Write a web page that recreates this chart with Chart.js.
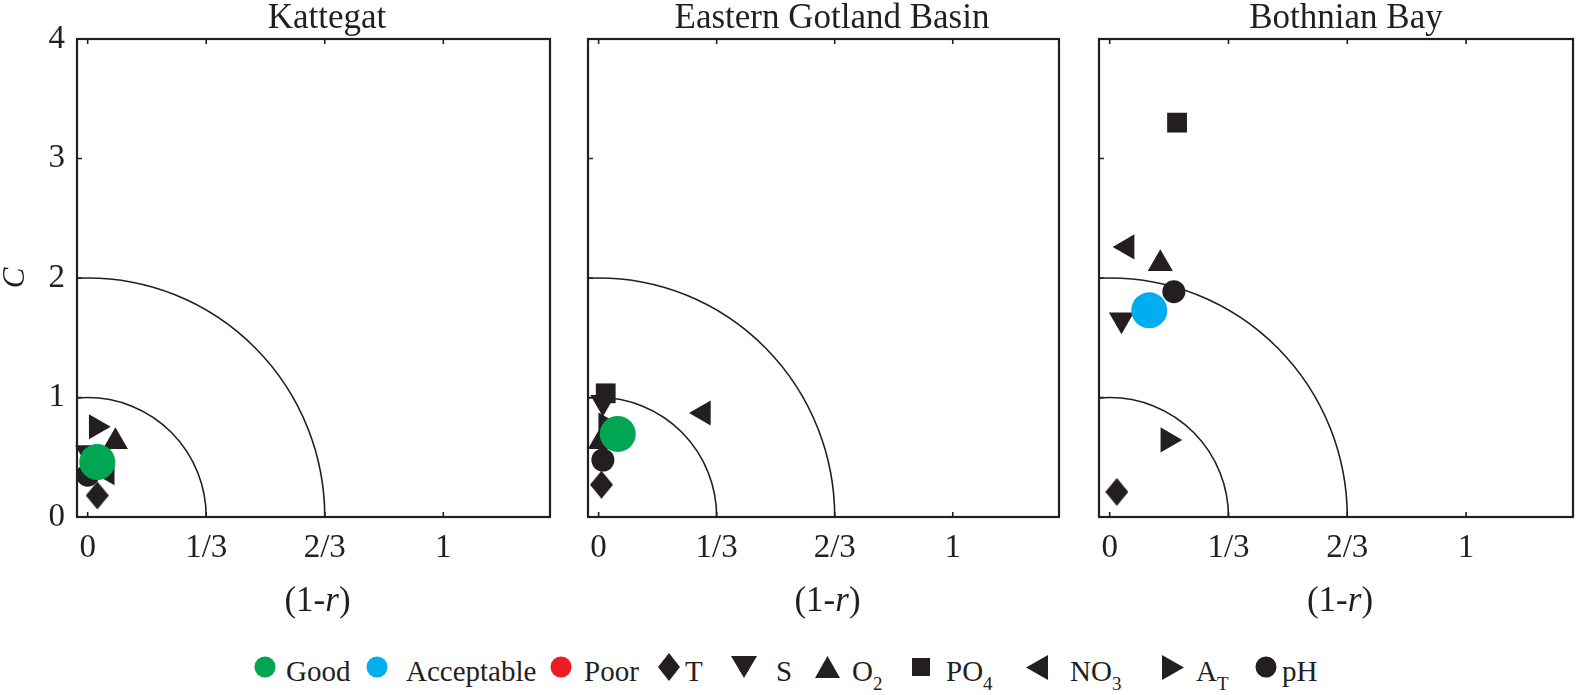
<!DOCTYPE html>
<html>
<head>
<meta charset="utf-8">
<script src="https://cdn.jsdelivr.net/npm/chart.js@4.4.1/dist/chart.umd.min.js"></script>
<style>
html,body{margin:0;padding:0;background:#fff;overflow:hidden;}
#wrap{position:relative;width:1586px;height:695px;overflow:hidden;background:#fff;font-family:"Liberation Serif","Times New Roman",serif;color:#231f20;}
#wrap canvas{position:absolute;top:0;}
.lg{position:absolute;font-size:29px;line-height:29px;white-space:nowrap;}
.lg sub{font-size:19px;vertical-align:baseline;position:relative;top:9px;}
.mk{position:absolute;}
</style>
</head>
<body>
<div id="wrap">
  <canvas id="c0"></canvas>
  <canvas id="c1"></canvas>
  <canvas id="c2"></canvas>
</div>
<script>
// ---------------- data ----------------
const regions = ['Kattegat', 'Eastern Gotland Basin', 'Bothnian Bay'];
const variables = ['T', 'S', 'O2', 'PO4', 'NO3', 'AT', 'pH'];
const xTickValues = [0, 1/3, 2/3, 1];
const xTickLabels = ['0', '1/3', '2/3', '1'];
const yTickLabels = ['0', '1', '2', '3', '4'];
// (1-r) and C for each variable (order as in `variables`)
const kattegatX = [0.027, 0.000, 0.078, 0.030, 0.055, 0.024, 0.000];
const kattegatC = [0.18, 0.54, 0.63, 0.45, 0.37, 0.755, 0.35];
const gotlandX  = [0.008, 0.012, 0.005, 0.020, 0.296, 0.020, 0.012];
const gotlandC  = [0.27, 0.96, 0.63, 1.035, 0.87, 0.77, 0.477];
const bothnianX = [0.020, 0.033, 0.142, 0.189, 0.049, 0.163, 0.180];
const bothnianC = [0.21, 1.65, 2.12, 3.30, 2.26, 0.645, 1.885];
// overall model skill per region
const overallX = [0.027, 0.054, 0.111];
const overallC = [0.46, 0.695, 1.73];
const overallRating = ['Good', 'Good', 'Acceptable'];
const ratingNames = ['Good', 'Acceptable', 'Poor'];
// reference quarter circles (C radius; (1-r) radius is one third)
const refRadii = [1, 2];

// ---------------- styles ----------------
const INK = '#231f20';
const ratingColors = {Good: '#00a651', Acceptable: '#00aeef', Poor: '#ed1c24'};
const FONT = '"Liberation Serif", "Times New Roman", serif';

function diamondImage(w, h) {
  const c = document.createElement('canvas');
  c.width = w; c.height = h;
  const g = c.getContext('2d');
  g.fillStyle = INK;
  g.beginPath();
  g.moveTo(w / 2, 0); g.lineTo(w, h / 2); g.lineTo(w / 2, h); g.lineTo(0, h / 2);
  g.closePath(); g.fill();
  return c;
}
const diamond = diamondImage(23, 28);
const varStyles = {
  T:   {pointStyle: diamond, radius: 14, rotation: 0},
  S:   {pointStyle: 'triangle', radius: 14.5, rotation: 180},
  O2:  {pointStyle: 'triangle', radius: 14.5, rotation: 0},
  PO4: {pointStyle: 'rect', radius: 14, rotation: 0},
  NO3: {pointStyle: 'triangle', radius: 14.5, rotation: 270},
  AT:  {pointStyle: 'triangle', radius: 14.5, rotation: 90},
  pH:  {pointStyle: 'circle', radius: 11.5, rotation: 0}
};

// ---------------- plugin: frame, inward ticks, reference arcs, x title ----------------
const framePlugin = {
  id: 'frame',
  beforeDatasetsDraw(chart) {
    const {ctx, chartArea: a, scales: {x, y}} = chart;
    const cx = x.getPixelForValue(0), cy = y.getPixelForValue(0);
    ctx.save();
    ctx.beginPath();
    ctx.rect(a.left, a.top, a.right - a.left, a.bottom - a.top);
    ctx.clip();
    ctx.strokeStyle = INK;
    ctx.lineWidth = 1.6;
    refRadii.forEach(r => {
      const rx = x.getPixelForValue(r / 3) - cx;
      const ry = cy - y.getPixelForValue(r);
      ctx.beginPath();
      ctx.ellipse(cx, cy, rx, ry, 0, 0, 2 * Math.PI);
      ctx.stroke();
    });
    ctx.restore();

    ctx.save();
    ctx.strokeStyle = INK;
    ctx.lineWidth = 2.2;
    ctx.strokeRect(a.left, a.top, a.right - a.left, a.bottom - a.top);
    ctx.lineWidth = 1.6;
    ctx.beginPath();
    x.ticks.forEach(t => {
      const px = x.getPixelForValue(t.value);
      ctx.moveTo(px, a.bottom); ctx.lineTo(px, a.bottom - 5);
      ctx.moveTo(px, a.top); ctx.lineTo(px, a.top + 5);
    });
    y.ticks.forEach(t => {
      const py = y.getPixelForValue(t.value);
      ctx.moveTo(a.left, py); ctx.lineTo(a.left + 5, py);
    });
    ctx.stroke();
    ctx.restore();
  },
  afterDraw(chart) {
    const {ctx, chartArea: a} = chart;
    const parts = [['(1-', 'normal'], ['r', 'italic'], [')', 'normal']];
    ctx.save();
    ctx.fillStyle = INK;
    ctx.textBaseline = 'alphabetic';
    ctx.textAlign = 'left';
    let total = 0;
    const widths = parts.map(p => {
      ctx.font = p[1] + ' 35px ' + FONT;
      const w = ctx.measureText(p[0]).width;
      total += w;
      return w;
    });
    let xPos = (a.left + a.right) / 2 + 4 - total / 2;
    parts.forEach((p, i) => {
      ctx.font = p[1] + ' 35px ' + FONT;
      ctx.fillText(p[0], xPos, 611);
      xPos += widths[i];
    });
    ctx.restore();
  }
};

// ---------------- panels ----------------
const panelX = [kattegatX, gotlandX, bothnianX];
const panelC = [kattegatC, gotlandC, bothnianC];
// canvases overlap (transparent); left/right box widths place the plot frame,
// the canvas centre sets the title centre
const canvasLayout = [
  {left: 0,    width: 654, leftBox: 77, rightBox: 104},
  {left: 560,  width: 544, leftBox: 28, rightBox: 45},
  {left: 1080, width: 532, leftBox: 19, rightBox: 39}
];

function makePanel(i) {
  const cv = document.getElementById('c' + i);
  const L = canvasLayout[i];
  cv.width = L.width; cv.height = 640;
  cv.style.left = L.left + 'px';
  cv.style.width = L.width + 'px'; cv.style.height = '640px';

  const datasets = [];
  datasets.push({
    label: overallRating[i],
    data: [{x: overallX[i], y: overallC[i]}],
    pointStyle: 'circle',
    pointRadius: 18,
    backgroundColor: ratingColors[overallRating[i]],
    borderColor: ratingColors[overallRating[i]],
    borderWidth: 0,
    clip: false
  });
  variables.forEach((v, k) => {
    const st = varStyles[v];
    datasets.push({
      label: v,
      data: [{x: panelX[i][k], y: panelC[i][k]}],
      pointStyle: st.pointStyle,
      pointRadius: st.radius,
      rotation: st.rotation,
      backgroundColor: INK,
      borderColor: INK,
      borderWidth: 0,
      clip: false
    });
  });

  new Chart(cv, {
    type: 'scatter',
    data: {datasets},
    plugins: [framePlugin],
    options: {
      responsive: false,
      animation: false,
      events: [],
      layout: {padding: 0},
      plugins: {
        legend: {display: false},
        tooltip: {enabled: false},
        title: {
          display: true,
          text: regions[i],
          fullSize: true,
          color: INK,
          font: {family: FONT, size: 35, weight: 'normal', lineHeight: 1},
          padding: {top: 1, bottom: 3}
        }
      },
      scales: {
        x: {
          type: 'linear',
          min: -0.03, max: 1.3,
          grid: {display: false, drawTicks: false},
          border: {display: false},
          afterBuildTicks: s => { s.ticks = xTickValues.map(v => ({value: v})); },
          afterFit: s => { s.height = 123; },
          ticks: {
            color: INK,
            padding: 12,
            maxRotation: 0,
            autoSkip: false,
            font: {family: FONT, size: 33},
            callback: (val, idx) => xTickLabels[idx]
          }
        },
        y: {
          type: 'linear',
          position: 'left',
          min: 0, max: 4,
          grid: {display: false, drawTicks: false},
          border: {display: false},
          afterBuildTicks: s => { s.ticks = yTickLabels.map((t, k) => ({value: k})); },
          afterFit: s => { s.width = L.leftBox; },
          title: {
            display: i === 0,
            text: 'C',
            color: INK,
            font: {family: FONT, size: 31, style: 'italic', lineHeight: 1},
            padding: 0
          },
          ticks: {
            display: i === 0,
            color: INK,
            padding: 12,
            font: {family: FONT, size: 33},
            callback: (val, idx) => yTickLabels[idx]
          }
        },
        spacer: {
          type: 'linear',
          position: 'right',
          grid: {display: false, drawTicks: false},
          border: {display: false},
          ticks: {display: false},
          afterFit: s => { s.width = L.rightBox; }
        }
      }
    }
  });
}
[0, 1, 2].forEach(makePanel);

// ---------------- legend ----------------
const legendLabels = [['Good', ''], ['Acceptable', ''], ['Poor', ''], ['T', ''], ['S', ''],
                      ['O', '2'], ['PO', '4'], ['NO', '3'], ['A', 'T'], ['pH', '']];
const legendKinds = ['Good', 'Acceptable', 'Poor', 'T', 'S', 'O2', 'PO4', 'NO3', 'AT', 'pH'];
const legendMarkerX = [265, 377, 561, 669, 744, 827, 921, 1037, 1173, 1266];
const legendTextX   = [286, 406, 584, 685, 776, 852, 946, 1070, 1196, 1282];
const LEG_MID = 667, LEG_BASE = 681;

function markerSVG(kind) {
  let w, h, body;
  if (ratingColors[kind]) {
    w = h = 22; body = `<circle cx="11" cy="11" r="10.5" fill="${ratingColors[kind]}"/>`;
  } else if (kind === 'pH') {
    w = h = 22; body = `<circle cx="11" cy="11" r="10.5" fill="${INK}"/>`;
  } else if (kind === 'T') {
    w = 22; h = 28; body = `<polygon points="11,0 22,14 11,28 0,14" fill="${INK}"/>`;
  } else if (kind === 'S') {
    w = 26; h = 22; body = `<polygon points="0,0 26,0 13,22" fill="${INK}"/>`;
  } else if (kind === 'O2') {
    w = 25; h = 22; body = `<polygon points="12.5,0 25,22 0,22" fill="${INK}"/>`;
  } else if (kind === 'PO4') {
    w = h = 18; body = `<rect x="0" y="0" width="18" height="18" fill="${INK}"/>`;
  } else if (kind === 'NO3') {
    w = 22; h = 25; body = `<polygon points="0,12.5 22,0 22,25" fill="${INK}"/>`;
  } else {
    w = 22; h = 25; body = `<polygon points="0,0 22,12.5 0,25" fill="${INK}"/>`;
  }
  return {w, h, svg: `<svg xmlns="http://www.w3.org/2000/svg" width="${w}" height="${h}">${body}</svg>`};
}

const wrap = document.getElementById('wrap');
legendLabels.forEach((lab, i) => {
  const m = markerSVG(legendKinds[i]);
  const mk = document.createElement('div');
  mk.className = 'mk';
  mk.style.left = (legendMarkerX[i] - m.w / 2) + 'px';
  mk.style.top = (LEG_MID - m.h / 2) + 'px';
  mk.style.width = m.w + 'px'; mk.style.height = m.h + 'px';
  mk.innerHTML = m.svg;
  wrap.appendChild(mk);

  const t = document.createElement('div');
  t.className = 'lg';
  t.style.left = legendTextX[i] + 'px';
  t.style.top = (LEG_BASE - 24) + 'px';
  t.appendChild(document.createTextNode(lab[0]));
  if (lab[1]) {
    const s = document.createElement('sub');
    s.textContent = lab[1];
    t.appendChild(s);
  }
  wrap.appendChild(t);
});
</script>
</body>
</html>
